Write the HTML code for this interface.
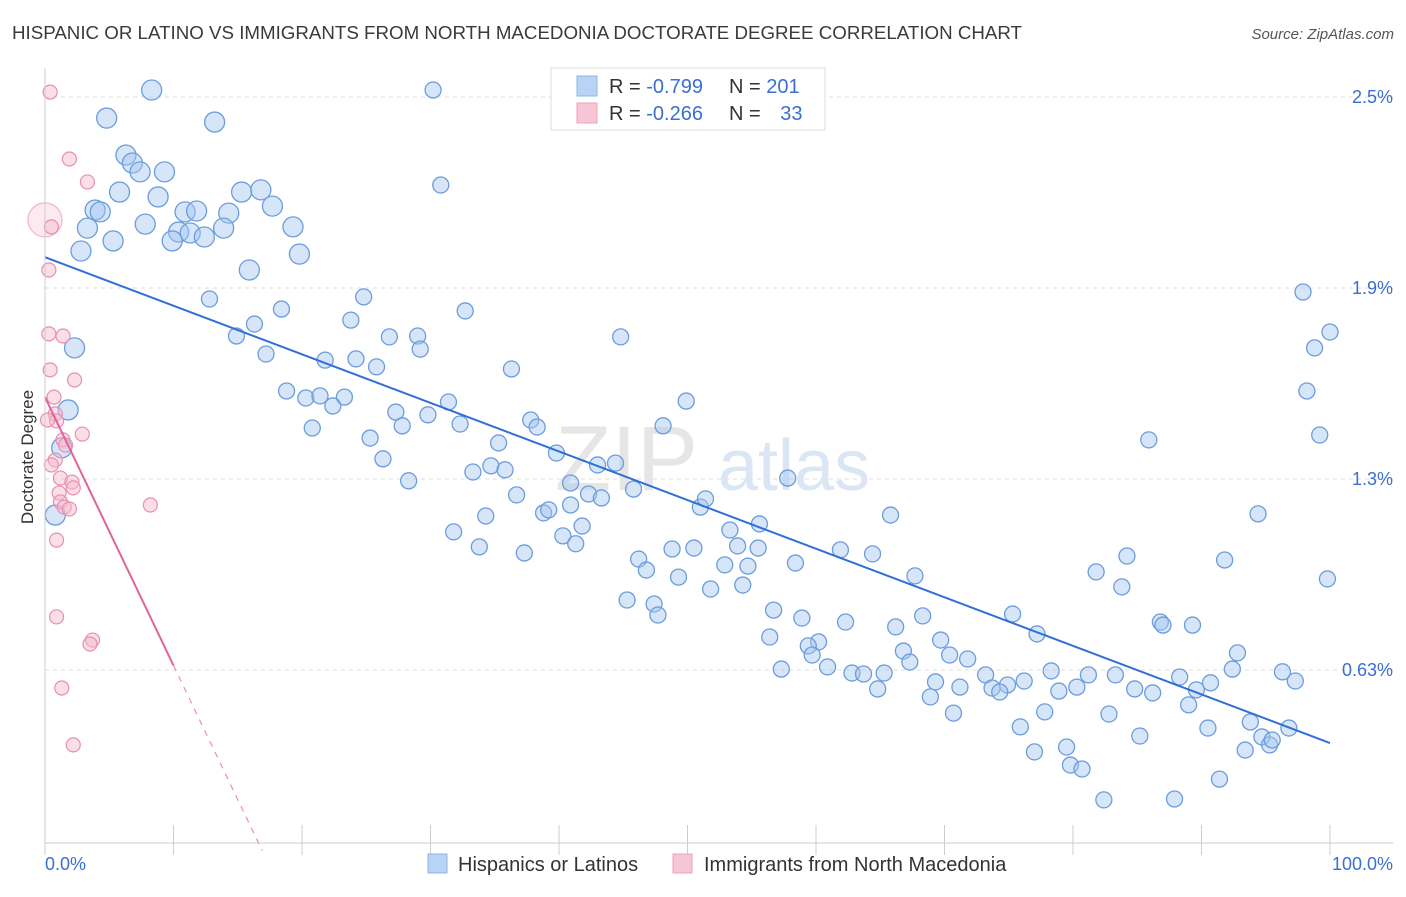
<!DOCTYPE html>
<html><head><meta charset="utf-8"><style>
body{margin:0;background:#fff;font-family:"Liberation Sans",sans-serif}
svg text{font-family:"Liberation Sans",sans-serif}
</style></head><body>
<svg id="chart" width="1406" height="892" xmlns="http://www.w3.org/2000/svg">
<text x="12" y="39" font-size="18" fill="#3a3a3a" textLength="1010" lengthAdjust="spacingAndGlyphs">HISPANIC OR LATINO VS IMMIGRANTS FROM NORTH MACEDONIA DOCTORATE DEGREE CORRELATION CHART</text>
<text x="1394" y="39" font-size="15" fill="#555" text-anchor="end" font-style="italic">Source: ZipAtlas.com</text>
<g id="grid"></g>
<g><text x="555" y="490" font-size="92" fill="#e6e6e6" font-family="Liberation Serif">ZIP</text><text x="718" y="490" font-size="72" fill="#dbe6f4">atlas</text></g>
<g id="marks"></g>
<g id="axes"></g>
<text transform="translate(33,457) rotate(-90)" font-size="17" fill="#333" text-anchor="middle">Doctorate Degree</text>
<g>
<rect x="551" y="68" width="274" height="62" fill="#fff" stroke="#ddd"/>
<rect x="577" y="76" width="20" height="20" fill="#b8d3f5" stroke="#8fb6e8"/>
<rect x="577" y="103" width="20" height="20" fill="#f7c6d6" stroke="#eda2bb"/>
<text x="609" y="93" font-size="20" fill="#333">R = <tspan fill="#3a6fd0">-0.799</tspan></text>
<text x="729" y="93" font-size="20" fill="#333">N = <tspan fill="#3a6fd0">201</tspan></text>
<text x="609" y="120" font-size="20" fill="#333">R = <tspan fill="#3a6fd0">-0.266</tspan></text>
<text x="729" y="120" font-size="20" fill="#333">N = <tspan fill="#3a6fd0" dx="14">33</tspan></text>
</g>
<g>
<rect x="428" y="854" width="19" height="19" fill="#b8d3f5" stroke="#8fb6e8"/>
<text x="458" y="871" font-size="20" fill="#333">Hispanics or Latinos</text>
<rect x="673" y="854" width="19" height="19" fill="#f7c6d6" stroke="#eda2bb"/>
<text x="704" y="871" font-size="20" fill="#333">Immigrants from North Macedonia</text>
</g>
</svg>
<script>
const yTicks=[2.5,1.875,1.25,0.625];
const yTickLabels=["2.5%","1.9%","1.3%","0.63%"];
const xTickLabels=["0.0%","100.0%"];
const blueX=[8.3,4.8,13.2,30.2,6.3,6.8,9.3,7.4,5.8,15.3,16.8,8.8,30.8,17.7,3.9,4.3,10.9,11.8,14.3,7.8,3.3,10.4,11.3,12.4,13.9,5.3,9.9,19.3,2.8,19.8,15.9,12.8,24.8,18.4,32.7,23.8,16.3,14.9,26.8,29.0,44.8,2.3,29.2,17.2,21.8,24.2,25.8,36.3,18.8,20.3,21.4,23.3,22.4,31.4,27.3,29.8,49.9,1.8,20.8,27.8,32.3,37.8,38.3,48.1,25.3,35.3,39.8,1.3,26.3,34.7,33.3,35.8,43.0,44.4,28.3,40.9,45.8,36.7,42.3,43.3,57.8,85.9,34.3,38.8,39.2,40.9,51.0,51.4,41.8,65.8,94.4,0.8,31.8,40.3,41.3,53.3,55.6,33.8,37.3,48.8,50.5,53.9,55.5,61.9,64.4,46.2,46.8,52.9,54.7,58.4,49.3,84.2,81.8,91.8,51.8,54.3,67.7,99.8,83.8,45.3,47.4,47.7,56.7,58.9,62.3,68.3,75.3,86.8,87.0,89.3,66.2,56.4,60.2,59.4,69.7,77.2,59.7,66.8,60.9,57.3,70.4,71.8,67.3,92.8,62.8,63.7,65.3,81.2,83.3,78.3,88.3,92.4,96.3,69.3,73.2,64.8,71.2,74.9,73.7,74.3,76.2,80.3,78.9,97.3,84.8,86.2,89.6,90.7,68.9,77.8,82.8,89.0,70.7,75.9,85.2,90.5,93.8,94.7,96.8,79.5,93.4,95.3,95.5,77.0,79.8,80.7,91.4,82.4,87.9,97.9,98.8,100.0,98.2,99.2];
const blueY=[2.523,2.431,2.418,2.523,2.310,2.284,2.255,2.255,2.189,2.189,2.196,2.173,2.212,2.143,2.130,2.124,2.124,2.127,2.120,2.084,2.071,2.058,2.055,2.042,2.071,2.029,2.029,2.075,1.996,1.986,1.934,1.839,1.846,1.806,1.800,1.770,1.757,1.718,1.715,1.718,1.715,1.679,1.675,1.659,1.639,1.643,1.617,1.610,1.538,1.515,1.522,1.518,1.489,1.502,1.469,1.460,1.505,1.476,1.417,1.424,1.430,1.443,1.420,1.424,1.384,1.368,1.335,1.352,1.316,1.293,1.273,1.280,1.296,1.302,1.244,1.237,1.217,1.198,1.201,1.188,1.253,1.378,1.129,1.139,1.149,1.165,1.158,1.185,1.096,1.132,1.136,1.132,1.077,1.064,1.038,1.083,1.103,1.028,1.008,1.021,1.024,1.031,1.024,1.018,1.005,0.988,0.952,0.969,0.965,0.975,0.929,0.998,0.946,0.985,0.890,0.903,0.933,0.923,0.897,0.854,0.841,0.805,0.821,0.795,0.782,0.802,0.808,0.782,0.772,0.772,0.766,0.733,0.717,0.704,0.723,0.743,0.674,0.687,0.635,0.628,0.674,0.661,0.651,0.681,0.615,0.612,0.615,0.609,0.609,0.622,0.602,0.628,0.619,0.586,0.609,0.563,0.569,0.576,0.566,0.553,0.589,0.569,0.556,0.589,0.563,0.550,0.560,0.583,0.537,0.488,0.481,0.511,0.484,0.439,0.409,0.435,0.455,0.406,0.435,0.373,0.363,0.380,0.396,0.357,0.314,0.301,0.268,0.200,0.203,1.862,1.679,1.731,1.538,1.394];
const pinkX=[0.0,0.5,0.4,1.9,3.3,0.3,0.3,1.4,2.3,0.4,0.7,0.8,0.9,1.4,2.9,0.8,0.5,1.2,2.1,2.2,1.1,1.2,1.5,1.9,8.2,0.9,0.9,3.7,3.5,1.3,2.2,0.2,1.6];
const pinkY=[2.098,2.075,2.516,2.297,2.222,1.934,1.725,1.718,1.574,1.607,1.518,1.463,1.440,1.378,1.397,1.312,1.296,1.253,1.240,1.221,1.204,1.175,1.158,1.152,1.165,1.050,0.799,0.723,0.710,0.566,0.380,1.443,1.361];
const blueFit=[1.976,-0.0159];
const pinkFit=[1.518,-0.0878];

const NS="http://www.w3.org/2000/svg";
const X0=45,X1=1330,YTOP=97,PXPER=305.6;
const sx=v=>X0+v/100*(X1-X0);
const sy=v=>YTOP+(2.5-v)*PXPER;
function mk(tag,attrs,parent){const e=document.createElementNS(NS,tag);for(const k in attrs)e.setAttribute(k,attrs[k]);parent.appendChild(e);return e;}
const grid=document.getElementById('grid'),marks=document.getElementById('marks'),axes=document.getElementById('axes');
yTicks.forEach((t,i)=>{
  const l=mk('line',{x1:45,x2:1393,y1:sy(t),y2:sy(t),stroke:'#ddd','stroke-dasharray':'4,4'},grid);
  
  
  const tx=mk('text',{x:1393,y:sy(t)+6,'font-size':18,fill:'#3a6fd0','text-anchor':'end'},axes);
  tx.textContent=yTickLabels[i];
  
  
});
const base=mk('line',{x1:45,x2:1393,y1:843,y2:843,stroke:'#ccc'},axes);


const yax=mk('line',{x1:45,x2:45,y1:68,y2:843,stroke:'#ccc'},axes);


for(let i=0;i<=10;i++){
  const t=mk('line',{x1:sx(i*10),x2:sx(i*10),y1:825,y2:855,stroke:'#ccc'},axes);
  
  
}
const xl0=mk('text',{x:45,y:870,'font-size':18,fill:'#3a6fd0'},axes);xl0.textContent=xTickLabels[0];


const xl1=mk('text',{x:1393,y:870,'font-size':18,fill:'#3a6fd0','text-anchor':'end'},axes);xl1.textContent=xTickLabels[1];



blueX.forEach((x,i)=>{
  const big=(x<20&&blueY[i]>1.9)||x<3;
  const c=mk('circle',{cx:sx(x),cy:sy(blueY[i]),r:big?10:8,fill:'rgba(165,198,240,0.45)',stroke:'#6b9ddc','stroke-width':1.3},marks);
  
  
});
pinkX.forEach((x,i)=>{
  const c=mk('circle',{cx:sx(x),cy:sy(pinkY[i]),r:i===0?17:7,fill:i===0?'rgba(245,185,205,0.3)':'rgba(245,185,205,0.45)',stroke:i===0?'#f0b5ca':'#e98fb0','stroke-width':1.2},marks);
  
  
});
const bl=mk('line',{x1:sx(0),y1:sy(blueFit[0]),x2:sx(100),y2:sy(blueFit[0]+blueFit[1]*100),stroke:'#2f6fd6','stroke-width':2},marks);


const pl=mk('line',{x1:sx(0),y1:sy(pinkFit[0]),x2:sx(10),y2:sy(pinkFit[0]+pinkFit[1]*10),stroke:'#e0649a','stroke-width':2},marks);


const pd=mk('line',{x1:sx(10),y1:sy(pinkFit[0]+pinkFit[1]*10),x2:sx(16.9),y2:sy(pinkFit[0]+pinkFit[1]*16.9),stroke:'#e98fb0','stroke-width':1.2,'stroke-dasharray':'6,6'},marks);


</script>
</body></html>
